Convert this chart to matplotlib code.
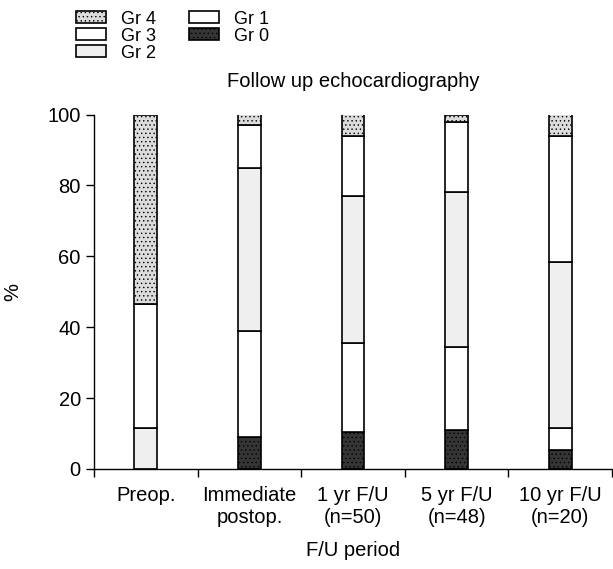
import matplotlib.pyplot as plt
import numpy as np

plt.rcParams['font.family'] = ['Liberation Sans', 'DejaVu Sans']
plt.rcParams['hatch.color'] = '#a8a8a8'
plt.rcParams['hatch.linewidth'] = 0.5

periods = ['Preop.', 'Immediate\npostop.', '1 yr F/U\n(n=50)', '5 yr F/U\n(n=48)', '10 yr F/U\n(n=20)']
grades = ['Gr 0', 'Gr 1', 'Gr 2', 'Gr 3', 'Gr 4']
gr0 = [0, 9, 10.5, 11, 5.5]
gr1 = [0, 30, 25, 23.5, 6]
gr2 = [11.5, 46, 41.5, 43.5, 47]
gr3 = [35, 12, 17, 20, 35.5]
gr4 = [53.5, 3, 6, 2, 6]

# fill, hatch for each grade (bottom to top)
styles = [('#353535', '....'), ('white', ''), ('#efefef', ''), ('white', ''), ('#dcdcdc', '....')]

fig = plt.figure(figsize=(6.13, 5.69), dpi=100)
ax = fig.add_axes([94/613, 1-469/569, 518/613, 354.5/569])

x = np.arange(len(periods))
bottom = np.zeros(len(periods))
bars = {}
for name, vals, (fc, hatch) in zip(grades, [gr0, gr1, gr2, gr3, gr4], styles):
    bars[name] = ax.bar(x, vals, width=0.22, bottom=bottom, color=fc, hatch=hatch,
                        edgecolor='black', linewidth=1.2, label=name)
    bottom += np.array(vals)

fs = 14.5
ax.set_xlim(-0.5, 4.5)
ax.set_ylim(0, 100)
ax.set_yticks(range(0, 101, 20))
ax.set_xticks(np.arange(-0.5, 4.6, 1))
ax.set_xticklabels([])
ax.set_xticks(x, minor=True)
ax.set_xticklabels(periods, minor=True)
ax.tick_params(axis='x', which='minor', length=0, pad=12)
ax.tick_params(axis='both', which='major', length=6, width=1, labelsize=fs)
ax.tick_params(axis='x', which='minor', labelsize=fs)
for s in ['top', 'right']:
    ax.spines[s].set_visible(False)
for s in ['left', 'bottom']:
    ax.spines[s].set_linewidth(1)

ax.set_ylabel('%', fontsize=fs, labelpad=18)
ax.set_xlabel('F/U period', fontsize=fs, labelpad=10)
ax.set_title('Follow up echocardiography', fontsize=fs, pad=20)

order = ['Gr 4', 'Gr 3', 'Gr 2', 'Gr 1', 'Gr 0']
fig.legend([bars[k] for k in order], order, ncol=2, loc='upper left',
           bbox_to_anchor=(60/613, 1.01), frameon=False, fontsize=13,
           handlelength=1.65, handleheight=0.65, labelspacing=0.0,
           columnspacing=1.8, handletextpad=0.85)

fig.savefig('out.png', dpi=100)
